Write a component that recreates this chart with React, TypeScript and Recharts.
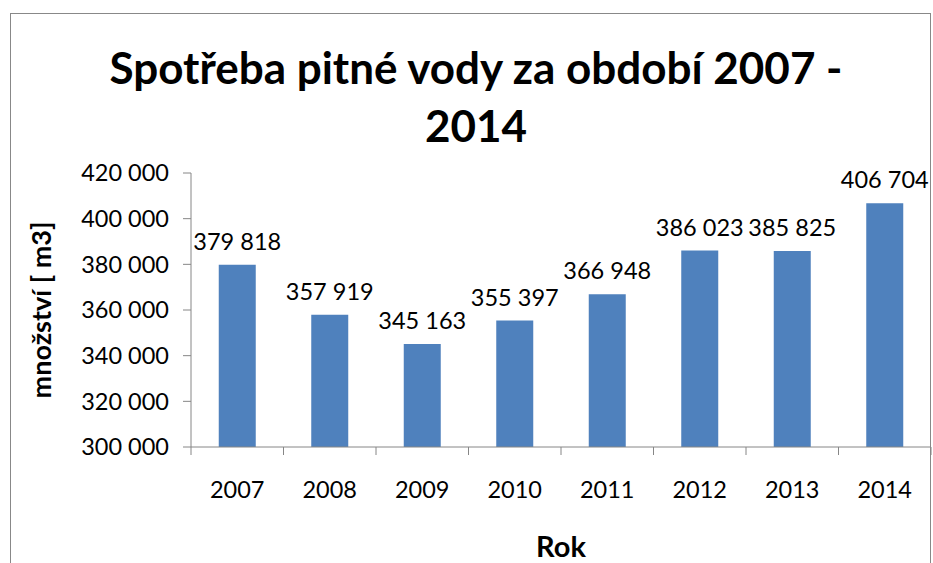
import React from 'react';
import { BarChart, Bar, XAxis, YAxis, LabelList, Label } from 'recharts';

const years = ['2007', '2008', '2009', '2010', '2011', '2012', '2013', '2014'];
const consumption = [379818, 357919, 345163, 355397, 366948, 386023, 385825, 406704];
const yTicks = [300000, 320000, 340000, 360000, 380000, 400000, 420000];

const data = years.map((year, i) => ({ year, value: consumption[i] }));

const FONT = 'Lato, "Open Sans", sans-serif';
const AXIS = '#868686';
const W = 933;
const H = 563;
const M = { top: 173, right: 2, bottom: 0, left: 0 };
const X_AXIS_H = 116;
const Y_AXIS_W = 191;
const BAND = (W - M.left - M.right - Y_AXIS_W) / years.length;
const TXT = 23.5;

const fmt = (v: number) => String(v).replace(/\B(?=(\d{3})+(?!\d))/g, ' ');

const YearTick = (props: any) => {
  const { x, y, payload, index } = props;
  const left = x - BAND / 2;
  return (
    <g>
      <line x1={left} x2={left} y1={y - 8} y2={y} stroke={AXIS} />
      {index === years.length - 1 && (
        <line x1={x + BAND / 2} x2={x + BAND / 2} y1={y - 8} y2={y} stroke={AXIS} />
      )}
      <text x={x} y={y + 43} textAnchor="middle" fontSize={TXT} fill="#000" fontFamily={FONT}>
        {payload.value}
      </text>
    </g>
  );
};

const ValueLabel = (props: any) => {
  const { x, y, width, value } = props;
  return (
    <text x={x + width / 2} y={y - 15} textAnchor="middle" fontSize={TXT} fill="#000" fontFamily={FONT}>
      {fmt(value)}
    </text>
  );
};

export default function App() {
  return (
    <div style={{ position: 'absolute', left: 0, top: 0, width: W, height: H, background: '#fff', overflow: 'hidden' }}>
      <div
        style={{
          position: 'absolute', left: 10, top: 13, width: 921, height: 600,
          border: '1px solid #888', borderBottom: 'none', boxSizing: 'border-box',
        }}
      />
      <div
        style={{
          position: 'absolute', left: 0, top: 38, width: 952, textAlign: 'center',
          fontFamily: FONT, fontWeight: 700, fontSize: 44, lineHeight: '58px', color: '#000',
        }}
      >
        Spotřeba pitné vody za období 2007 -<br />2014
      </div>
      <BarChart width={W} height={H} data={data} margin={M} barCategoryGap="30%">
        <XAxis
          dataKey="year"
          stroke={AXIS}
          tickLine={false}
          tick={<YearTick />}
          height={X_AXIS_H}
          interval={0}
        >
          <Label
            value="Rok"
            position="insideBottom"
            offset={6}
            style={{ fontFamily: FONT, fontWeight: 700, fontSize: 29, fill: '#000' }}
          />
        </XAxis>
        <YAxis
          width={Y_AXIS_W}
          domain={[300000, 420000]}
          ticks={yTicks}
          interval={0}
          stroke={AXIS}
          tickSize={8}
          tickMargin={14}
          tickFormatter={fmt}
          tick={{ fontSize: TXT, fill: '#000', fontFamily: FONT }}
        >
          <Label
            content={(p: any) => {
              const cy = p.viewBox.y + p.viewBox.height / 2;
              return (
                <text
                  x={40}
                  y={cy}
                  transform={`rotate(-90 40 ${cy})`}
                  textAnchor="middle"
                  dominantBaseline="central"
                  fontFamily={FONT}
                  fontWeight={700}
                  fontSize={27}
                  fill="#000"
                >
                  množství [ m3]
                </text>
              );
            }}
          />
        </YAxis>
        <Bar dataKey="value" fill="#4F81BD" isAnimationActive={false}>
          <LabelList dataKey="value" content={<ValueLabel />} />
        </Bar>
      </BarChart>
    </div>
  );
}
